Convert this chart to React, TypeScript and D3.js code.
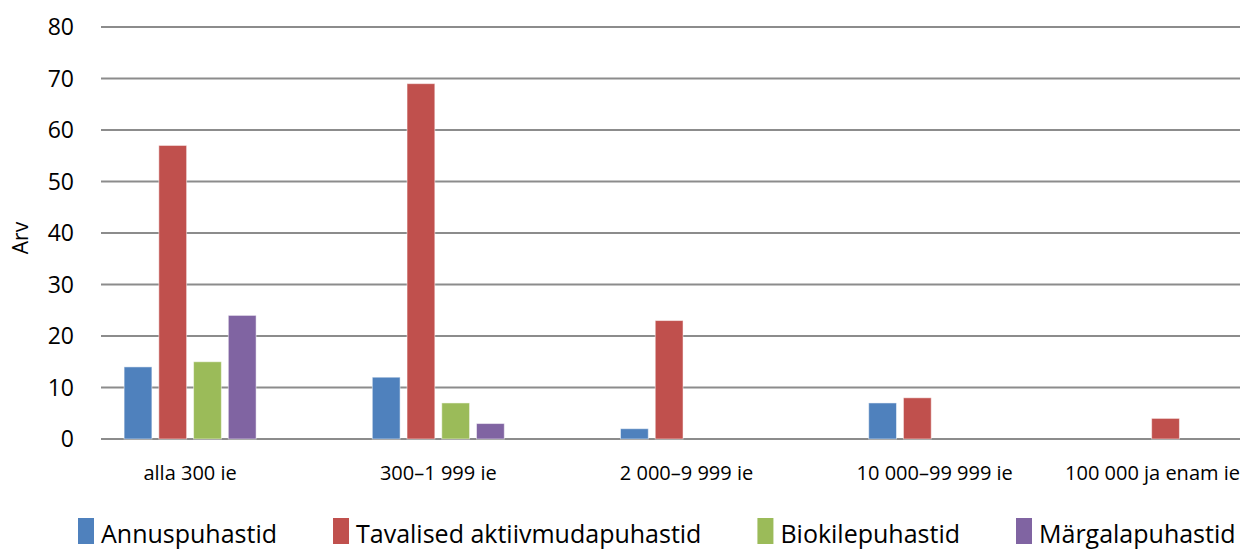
import React, { useRef, useEffect } from "react";
import * as d3 from "d3";

const categories = [
  "alla 300 ie",
  "300–1 999 ie",
  "2 000–9 999 ie",
  "10 000–99 999 ie",
  "100 000 ja enam ie",
];
const seriesNames = [
  "Annuspuhastid",
  "Tavalised aktiivmudapuhastid",
  "Biokilepuhastid",
  "Märgalapuhastid",
];
const annus = [14, 12, 2, 7, 0];
const tavalised = [57, 69, 23, 8, 4];
const biokile = [15, 7, 0, 0, 0];
const margala = [24, 3, 0, 0, 0];
const yTicks = [0, 10, 20, 30, 40, 50, 60, 70, 80];
const colors = ["#4F81BD", "#C0504D", "#9BBB59", "#8064A2"];

const FONT = "'Open Sans', 'Noto Sans', sans-serif";

const App = () => {
  const svgRef = useRef(null);

  useEffect(() => {
    document.body.style.margin = "0";
    const svg = d3.select(svgRef.current);
    svg.selectAll("*").remove();

    const plotLeft = 101;
    const plotRight = 1240;

    const series = [annus, tavalised, biokile, margala];
    const data = categories.map((c, i) => ({
      cat: c,
      values: series.map((s, j) => ({ key: seriesNames[j], value: s[i], idx: j })),
    }));

    // y scale
    const y = d3.scaleLinear().domain([0, 80]).range([439, 27]);

    // category band (spacing matched to the bar groups)
    const x = d3.scaleBand().domain(categories).range([66, 1307]).padding(0);
    const groupW = 132;
    const inner = d3
      .scaleBand()
      .domain(seriesNames)
      .range([0, groupW])
      .paddingInner(0.2)
      .paddingOuter(0);
    const groupOffset = (x.bandwidth() - groupW) / 2;

    // gridlines
    svg
      .append("g")
      .selectAll("line")
      .data(yTicks)
      .enter()
      .append("line")
      .attr("x1", plotLeft)
      .attr("x2", plotRight)
      .attr("y1", (d) => y(d))
      .attr("y2", (d) => y(d))
      .attr("stroke", "#8c8c8c")
      .attr("stroke-width", 2);

    // y labels
    svg
      .append("g")
      .selectAll("text")
      .data(yTicks)
      .enter()
      .append("text")
      .attr("x", 74)
      .attr("y", (d) => y(d))
      .attr("dy", "0.36em")
      .attr("text-anchor", "end")
      .style("font-family", FONT)
      .style("font-size", "23px")
      .style("fill", "#000")
      .text((d) => d);

    // y title
    svg
      .append("text")
      .attr("transform", "translate(28,238) rotate(-90)")
      .attr("text-anchor", "middle")
      .style("font-family", FONT)
      .style("font-size", "21px")
      .text("Arv");

    // bars
    const groups = svg
      .append("g")
      .selectAll("g")
      .data(data)
      .enter()
      .append("g")
      .attr("transform", (d) => "translate(" + (x(d.cat) + groupOffset) + ",0)");

    groups
      .selectAll("rect")
      .data((d) => d.values.filter((v) => v.value > 0))
      .enter()
      .append("rect")
      .attr("x", (d) => inner(d.key))
      .attr("y", (d) => y(d.value))
      .attr("width", inner.bandwidth())
      .attr("height", (d) => y(0) - y(d.value))
      .style("fill", (d) => colors[d.idx])
      .style("stroke", "#ffffff")
      .style("stroke-opacity", 0.5)
      .style("stroke-width", 1);

    // category labels (kept inside the page on the right)
    svg
      .append("g")
      .selectAll("text")
      .data(categories)
      .enter()
      .append("text")
      .attr("x", (d) => x(d) + x.bandwidth() / 2)
      .attr("y", 480)
      .attr("text-anchor", "middle")
      .style("font-family", FONT)
      .style("font-size", "20px")
      .text((d) => d)
      .each(function () {
        const t = d3.select(this);
        const half = this.getComputedTextLength() / 2;
        const cx = +t.attr("x");
        if (cx + half > plotRight) t.attr("x", plotRight - half);
      });

    // legend
    const legend = svg.append("g");
    let lx = 78;
    seriesNames.forEach((name, i) => {
      legend
        .append("rect")
        .attr("x", lx)
        .attr("y", 518)
        .attr("width", 16)
        .attr("height", 26)
        .style("fill", colors[i]);
      const t = legend
        .append("text")
        .attr("x", lx + 23)
        .attr("y", 543)
        .style("font-family", FONT)
        .style("font-size", "25px")
        .text(name);
      const w = t.node().getComputedTextLength();
      lx = lx + 23 + w + 56;
    });
  }, []);

  return (
    <svg
      ref={svgRef}
      width={1245}
      height={549}
      style={{ display: "block", background: "#fff" }}
    />
  );
};

export default App;
